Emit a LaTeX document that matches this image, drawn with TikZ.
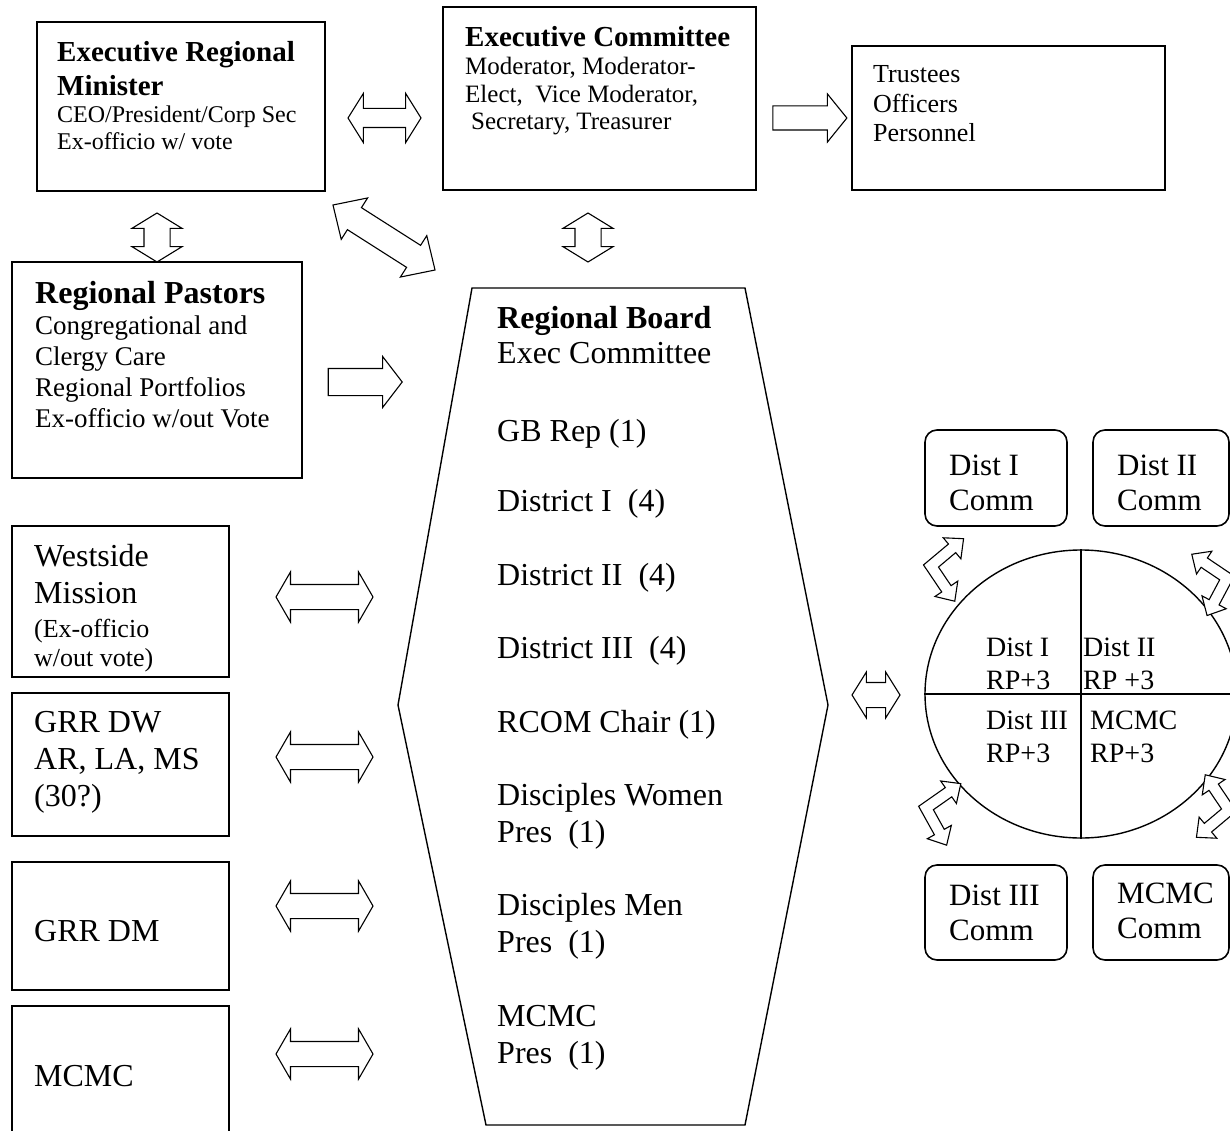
\documentclass[tikz,border=0pt]{standalone}
\usepackage{fontspec}
\setmainfont{Liberation Serif}
\usetikzlibrary{calc,positioning,shapes.arrows,shapes.geometric}

\newcommand{\fHeadA}{\fontsize{29}{34}\selectfont\bfseries}
\newcommand{\fHeadB}{\fontsize{32}{36}\selectfont\bfseries}
\newcommand{\fErm}{\fontsize{24}{27}\selectfont}
\newcommand{\fEc}{\fontsize{25}{27.5}\selectfont}
\newcommand{\fTru}{\fontsize{26}{29.5}\selectfont}
\newcommand{\fRp}{\fontsize{27}{30.7}\selectfont}
\newcommand{\fBig}{\fontsize{32}{36.6}\selectfont}
\newcommand{\fSmall}{\fontsize{26}{29}\selectfont}
\newcommand{\fCirc}{\fontsize{28}{33}\selectfont}
\newcommand{\fComm}{\fontsize{31}{35}\selectfont}

\tikzset{
  box/.style={draw, line width=1.8pt, inner sep=0pt},
  commbox/.style={draw, line width=1.6pt, rounded corners=12pt, inner sep=0pt},
  lbl/.style={anchor=base west, inner sep=0pt, align=left},
}
\newcommand{\orgbox}[5]{\node[box, minimum width={#4-#2}, minimum height={#5-#3}] (#1) at ({(#2+#4)/2},{(#3+#5)/2}) {};}
\newcommand{\commbox}[5]{\node[commbox, minimum width={#4-#2}, minimum height={#5-#3}] (#1) at ({(#2+#4)/2},{(#3+#5)/2}) {};}
% name, position, length, shaft half, head extend, tip angle, rotation
\newcommand{\dblarr}[7]{\node[double arrow, draw, line width=1.1pt, inner sep=#4pt, minimum width=0pt,
  double arrow head extend=#5pt, double arrow tip angle=#6, minimum height=#3pt, rotate=#7] (#1) at (#2) {};}
\newcommand{\onearr}[6]{\node[single arrow, draw, line width=1.1pt, inner sep=#4pt, minimum width=0pt,
  single arrow head extend=#5pt, single arrow tip angle=#6, minimum height=#3pt] (#1) at (#2) {};}
% x, y, mirror, rotation
\newcommand{\bentarr}[4]{\begin{scope}[shift={(#1,#2)}, xscale=#3, rotate=#4, scale=1.25]
  \draw[line width=1.1pt, fill=white] (-6.06,0) -- (11.38,19.36) -- (6.55,23.71) -- (22.75,25.26)
    -- (22.89,8.99) -- (18.06,13.34) -- (6.06,0) -- (18.06,-13.34) -- (22.89,-8.99)
    -- (22.75,-25.26) -- (6.55,-23.71) -- (11.38,-19.36) -- cycle;
  \end{scope}}

\begin{document}
\begin{tikzpicture}[x=1pt,y=-1pt]
  \clip (0,0) rectangle (1230,1131);
  % top row
  \orgbox{erm}{37}{22}{325}{191}
  \orgbox{ec}{443}{7}{756}{190}
  \orgbox{tru}{852}{46}{1165}{190}
  % left column
  \orgbox{rp}{12}{262}{302}{478}
  \orgbox{ws}{12}{526}{229}{677}
  \orgbox{dw}{12}{693}{229}{836}
  \orgbox{dm}{12}{862}{229}{990}
  \orgbox{mc}{12}{1006}{229}{1170}
  % regional board
  \coordinate (bTL) at (472,288);
  \coordinate (bTR) at (745,288);
  \coordinate (bR) at (828,705);
  \coordinate (bBR) at (745,1125);
  \coordinate (bBL) at (486,1125);
  \coordinate (bL) at (398,705);
  \draw[line width=1.4pt] (bTL) -- (bTR) -- (bR) -- (bBR) -- (bBL) -- (bL) -- cycle;
  % districts
  \node[draw, ellipse, line width=1.4pt, minimum width=312pt, minimum height=288pt, inner sep=0pt] (circ) at (1081,694) {};
  \draw[line width=1.4pt] (circ.north) -- (circ.south);
  \draw[line width=1.4pt] (circ.west) -- (circ.east);
  \commbox{c1}{925}{430}{1067}{526}
  \commbox{c2}{1093}{430}{1229}{526}
  \commbox{c3}{925}{865}{1067}{960}
  \commbox{c4}{1093}{865}{1229}{960}

  % labels for top row (y is the last baseline)
  \node[lbl, font=\fHeadA] (ermh) at (57,96) {Executive Regional\\Minister};
  \node[lbl, font=\fErm] (ermt) at (57,150) {CEO/President/Corp Sec\\Ex-officio w/ vote};
  \node[lbl, font=\fHeadA] (ech) at (465,47) {Executive Committee};
  \node[lbl, font=\fEc] (ect) at (465,130) {Moderator, Moderator-\\Elect,~ Vice Moderator,\\\hspace*{6pt}Secretary, Treasurer};
  \node[lbl, font=\fTru] (trut) at (873,142) {Trustees\\Officers\\Personnel};
  % labels for left column
  \node[lbl, font=\fHeadB] (rph) at (35,303) {Regional Pastors};
  \node[lbl, font=\fRp] (rpt) at (35,427) {Congregational and\\Clergy Care\\Regional Portfolios\\Ex-officio w/out Vote};
  \node[lbl, font=\fBig] (wsh) at (34,603) {Westside\\Mission};
  \node[lbl, font=\fSmall] (wst) at (34,666) {(Ex-officio\\w/out vote)};
  \node[lbl, font=\fBig] (dwt) at (34,806) {GRR DW\\AR, LA, MS\\(30?)};
  \node[lbl, font=\fBig] (dmt) at (34,941) {GRR DM};
  \node[lbl, font=\fBig] (mct) at (34,1086) {MCMC};
  % labels for board
  \node[lbl, font=\fHeadB] (rbh) at (497,328) {Regional Board};
  \node[lbl, font=\fBig] (rbt) at (497,363) {Exec Committee};
  \foreach \txt/\yy [count=\i] in {{GB Rep (1)}/441, {District I~ (4)}/511, {District II~ (4)}/585,
      {District III~ (4)}/658, {RCOM Chair (1)}/732, {Disciples Women\\Pres~ (1)}/842,
      {Disciples Men\\Pres~ (1)}/952, {MCMC\\Pres~ (1)}/1063}
    \node[lbl, font=\fBig] (rb\i) at (497,\yy) {\txt};
  % labels for districts
  \node[lbl, font=\fCirc] (q1) at (986,689) {Dist I\\RP+3};
  \node[lbl, font=\fCirc] (q2) at (1083,689) {Dist II\\RP +3};
  \node[lbl, font=\fCirc] (q3) at (986,762) {Dist III\\RP+3};
  \node[lbl, font=\fCirc] (q4) at (1090,762) {MCMC\\RP+3};
  \node[lbl, font=\fComm] (c1t) at (949,510) {Dist I\\Comm};
  \node[lbl, font=\fComm] (c2t) at (1117,510) {Dist II\\Comm};
  \node[lbl, font=\fComm] (c3t) at (949,940) {Dist III\\Comm};
  \node[lbl, font=\fComm] (c4t) at (1117,938) {MCMC\\Comm};

  % block arrows
  \dblarr{aErmEc}{384.5,118}{73}{9}{15}{116}{0}
  \onearr{aEcTru}{805,118}{74}{11.5}{12}{102}
  \dblarr{aErmRp}{157,237.5}{49}{12.5}{12}{117}{90}
  \dblarr{aEcRb}{588,237.5}{49}{12.5}{12}{117}{90}
  \dblarr{aErmRb}{384,237.5}{121}{12.5}{11.5}{88}{-32.5}
  \onearr{aRpRb}{360,382}{74}{13}{12}{105}
  \dblarr{aWs}{324.5,597}{97}{12}{12.5}{120}{0}
  \dblarr{aDw}{324.5,757}{97}{12}{12.5}{120}{0}
  \dblarr{aDm}{324.5,906}{97}{12}{12.5}{120}{0}
  \dblarr{aMc}{324.5,1054}{97}{12}{12.5}{120}{0}
  \dblarr{aRbC}{876,695}{48}{12}{10.5}{116}{0}
  % bent arrows round the circle
  \bentarr{931}{566}{1}{-8}
  \bentarr{1227}{578}{-1}{-14}
  \bentarr{926}{808}{1}{-13}
  \bentarr{1229}{810}{-1}{8}
\end{tikzpicture}
\end{document}
